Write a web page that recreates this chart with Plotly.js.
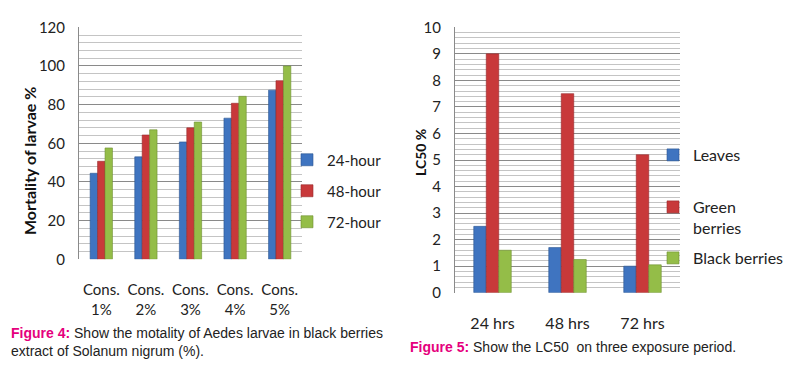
<!DOCTYPE html>
<html><head><meta charset="utf-8">
<script src="https://cdn.plot.ly/plotly-3.0.1.min.js"></script>
<style>html,body{margin:0;padding:0;background:#fff}#c{width:796px;height:377px}</style>
</head><body><div id="c"></div>
<script>
// Figure 4 data
const concCats = ["Cons.<br>1%", "Cons.<br>2%", "Cons.<br>3%", "Cons.<br>4%", "Cons.<br>5%"];
const mort24 = [44.5, 53, 60.7, 73, 87.5];
const mort48 = [50.7, 64.3, 68, 80.7, 92.4];
const mort72 = [57.6, 67, 71, 84.3, 100];
const mortNames = ["24-hour", "48-hour", "72-hour"];
// Figure 5 data
const periodCats = ["24 hrs", "48 hrs", "72 hrs"];
const lcLeaves = [2.5, 1.7, 1.0];
const lcGreen = [9.0, 7.5, 5.2];
const lcBlack = [1.6, 1.25, 1.05];
const lcNames = ["Leaves", "Green<br>berries", "Black berries"];

const cols = ["#3f74c0", "#c8393a", "#94bd48"];
const lines = ["#2c5690", "#972a2b", "#6d8e31"];
const F = "Lato, 'Noto Sans', sans-serif";

function bar(x, y, i, name, xa, ya, lg) {
  return {type: "bar", x: x, y: y, name: name, xaxis: xa, yaxis: ya, legend: lg, showlegend: true,
    marker: {color: cols[i], line: {color: lines[i], width: 0.6}}, hoverinfo: "skip"};
}
const data = [
  bar(concCats, mort24, 0, mortNames[0], "x", "y", "legend"),
  bar(concCats, mort48, 1, mortNames[1], "x", "y", "legend2"),
  bar(concCats, mort72, 2, mortNames[2], "x", "y", "legend3"),
  bar(periodCats, lcLeaves, 0, lcNames[0], "x2", "y2", "legend4"),
  bar(periodCats, lcGreen, 1, lcNames[1], "x2", "y2", "legend5"),
  bar(periodCats, lcBlack, 2, lcNames[2], "x2", "y2", "legend6")
];
const W = 796, H = 377;
const yax = (lo, hi, rng, dt, mdt, fs) => ({
  domain: [1 - hi / H, 1 - lo / H], range: rng, dtick: dt, tick0: 0,
  showgrid: true, gridcolor: "#8a8a8a", gridwidth: 1,
  minor: {dtick: mdt, showgrid: true, gridcolor: "#c4c4c4", gridwidth: 1},
  showline: true, linecolor: "#8a8a8a", linewidth: 1, zeroline: false,
  ticks: "outside", ticklen: 10, tickcolor: "rgba(0,0,0,0)",
  tickfont: {family: F, size: fs, color: "#222"}, fixedrange: true
});
const leg = (xText, yCenter, fs, extra) => Object.assign({
  visible: true,
  x: (xText - 39) / W, y: 1 - yCenter / H, xanchor: "left", yanchor: "middle",
  font: {family: F, size: fs, color: "#222"}, bgcolor: "rgba(0,0,0,0)", itemwidth: 30
}, extra || {});
const capFont = {family: "'Liberation Sans Narrow', 'Liberation Sans', Arial, sans-serif", size: 14, color: "#222"};
const layout = {
  width: W, height: H, margin: {l: 0, r: 0, t: 0, b: 0},
  paper_bgcolor: "#fff", plot_bgcolor: "#fff", showlegend: true,
  barmode: "group", bargap: 0.5, bargroupgap: 0,
  font: {family: F, color: "#222"},
  xaxis: {domain: [79 / W, 302 / W], anchor: "y", showline: false, showgrid: false,
    ticks: "outside", ticklen: 17, tickcolor: "rgba(0,0,0,0)",
    tickfont: {family: F, size: 15, color: "#222"}, fixedrange: true},
  yaxis: Object.assign(yax(27.3, 259.3, [0, 120], 20, 4, 15), {anchor: "x"}),
  xaxis2: {domain: [455 / W, 680 / W], anchor: "y2", showline: false, showgrid: false,
    ticks: "outside", ticklen: 16, tickcolor: "rgba(0,0,0,0)",
    tickfont: {family: F, size: 16, color: "#222"}, fixedrange: true},
  yaxis2: Object.assign(yax(27.3, 292.7, [0, 10], 1, 0.2, 15), {anchor: "x2"}),
  legend: leg(326, 160, 15),
  legend2: leg(326, 191, 15),
  legend3: leg(326, 222, 15),
  legend4: leg(692, 155, 16),
  legend5: leg(692, 217.5, 16, {valign: "top"}),
  legend6: leg(692, 258, 16),
  annotations: [
    {text: "<b>Mortality of larvae %</b>", xref: "paper", yref: "paper", x: 29 / W, y: 1 - 161 / H,
      xanchor: "center", yanchor: "middle",
      textangle: -90, showarrow: false, font: {family: F, size: 16, color: "#111"}},
    {text: "<b>LC50 %</b>", xref: "paper", yref: "paper", x: 420 / W, y: 1 - 152 / H,
      xanchor: "center", yanchor: "middle",
      textangle: -90, showarrow: false, font: {family: F, size: 14, color: "#111"}},
    {text: "<b><span style='color:#e5007d'>Figure 4:</span></b> Show the motality of Aedes larvae in black berries<br>extract of Solanum nigrum (%).",
      xref: "paper", yref: "paper", x: 9 / W, y: 1 - 323 / H, xanchor: "left", yanchor: "top",
      align: "left", showarrow: false, font: capFont},
    {text: "<b><span style='color:#e5007d'>Figure 5:</span></b> Show the LC50  on three exposure period.",
      xref: "paper", yref: "paper", x: 408 / W, y: 1 - 337 / H, xanchor: "left", yanchor: "top",
      align: "left", showarrow: false, font: capFont}
  ]
};
Plotly.newPlot("c", data, layout, {staticPlot: true, displayModeBar: false});
</script></body></html>
